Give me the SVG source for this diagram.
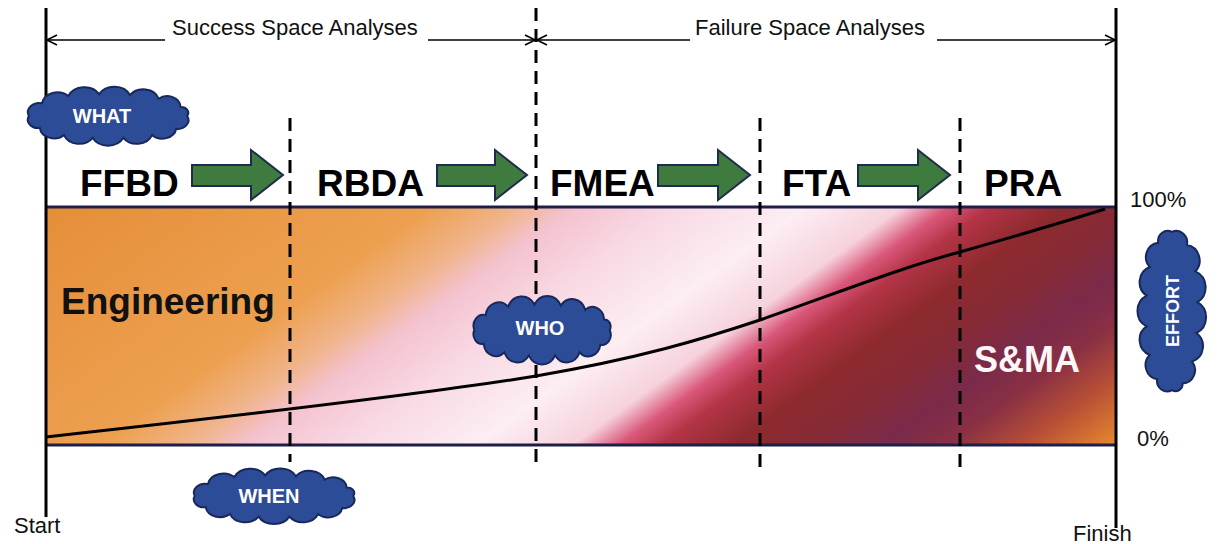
<svg xmlns="http://www.w3.org/2000/svg" xmlns:xlink="http://www.w3.org/1999/xlink" width="1228" height="544" viewBox="0 0 1228 544">
<style>
.t{font-family:"Liberation Sans",Arial,sans-serif;fill:#111}
.lbl{font-size:22px}
.hdr{font-size:37px;font-weight:bold;fill:#000}
.ct{font-family:"Liberation Sans",Arial,sans-serif;font-size:20px;font-weight:bold;fill:#fff;text-anchor:middle}
.blk{stroke:#000;stroke-width:3;fill:none}
.dash{stroke:#000;stroke-width:3;stroke-dasharray:13 8;fill:none}
.ga{fill:#3F7A3E;stroke:#1E2A4E;stroke-width:2}
.cl{fill:#2D4C97;stroke:#18285A;stroke-width:2}
</style>
<defs>
<linearGradient id="band" gradientUnits="userSpaceOnUse" x1="46" y1="207" x2="525" y2="871">
<stop offset="0" stop-color="#E58E38"/>
<stop offset="0.275" stop-color="#EDA050"/>
<stop offset="0.336" stop-color="#F0B48A"/>
<stop offset="0.378" stop-color="#F4C2CF"/>
<stop offset="0.446" stop-color="#F8D8E3"/>
<stop offset="0.543" stop-color="#FCEEF2"/>
<stop offset="0.612" stop-color="#F6D2DD"/>
<stop offset="0.645" stop-color="#D9587A"/>
<stop offset="0.675" stop-color="#B33446"/>
<stop offset="0.726" stop-color="#8E2A2E"/>
<stop offset="0.78" stop-color="#862A36"/>
<stop offset="0.835" stop-color="#7A2A4A"/>
<stop offset="0.88" stop-color="#8A3044"/>
<stop offset="0.935" stop-color="#B85036"/>
<stop offset="1" stop-color="#E8882E"/>
</linearGradient>
<path id="cloud" class="cl" vector-effect="non-scaling-stroke" d="M72,0 A9.6,9.6 0 0 1 62,14 A12.9,12.9 0 0 1 40,21 A14.7,14.7 0 0 1 14,24 A15.7,15.7 0 0 1 -14,24 A14.7,14.7 0 0 1 -40,21 A13.1,13.1 0 0 1 -62,13 A9.2,9.2 0 0 1 -72,0 A10.3,10.3 0 0 1 -60,-14 A14.2,14.2 0 0 1 -36,-22 A15.7,15.7 0 0 1 -8,-24 A15.7,15.7 0 0 1 20,-23 A14.7,14.7 0 0 1 46,-19 A12.3,12.3 0 0 1 66,-10 A6.6,6.6 0 0 1 72,0 Z"/>
<marker id="ah" viewBox="0 0 12 12" refX="11" refY="6" markerWidth="12" markerHeight="12" markerUnits="userSpaceOnUse" orient="auto-start-reverse">
<path d="M1,1 L11,6 L1,11" fill="none" stroke="#000" stroke-width="1.6"/>
</marker>
</defs>
<rect width="1228" height="544" fill="#fff"/>

<g id="band-area">
<rect x="46" y="207" width="1070" height="238" fill="url(#band)"/>
<line x1="46" y1="207" x2="1116" y2="207" stroke="#1E1E48" stroke-width="3"/>
<line x1="46" y1="445" x2="1116" y2="445" stroke="#1E1E48" stroke-width="3"/>
</g>

<g id="axes">
<line class="blk" x1="46" y1="8" x2="46" y2="517"/>
<line class="blk" x1="1116" y1="8" x2="1116" y2="528"/>
<line class="dash" x1="290" y1="118" x2="290" y2="462"/>
<line class="dash" x1="536" y1="8" x2="536" y2="470"/>
<line class="dash" x1="760" y1="118" x2="760" y2="470"/>
<line class="dash" x1="960" y1="118" x2="960" y2="470"/>
</g>

<g id="connectors">
<line x1="47" y1="40" x2="165" y2="40" stroke="#000" stroke-width="1.6" marker-start="url(#ah)"/>
<line x1="428" y1="40" x2="535" y2="40" stroke="#000" stroke-width="1.6" marker-end="url(#ah)"/>
<line x1="537" y1="40" x2="690" y2="40" stroke="#000" stroke-width="1.6" marker-start="url(#ah)"/>
<line x1="937" y1="40" x2="1115" y2="40" stroke="#000" stroke-width="1.6" marker-end="url(#ah)"/>
<polygon class="ga" points="192,165 251,165 251,150 283,175 251,200 251,186 192,186"/>
<polygon class="ga" points="437,165 495,165 495,150 527,175 495,200 495,186 437,186"/>
<polygon class="ga" points="658,165 718,165 718,150 750,175 718,200 718,186 658,186"/>
<polygon class="ga" points="858,165 918,165 918,150 950,175 918,200 918,186 858,186"/>
<path d="M46,437 C200,420 420,395 536,376 C640,358 700,340 760,320 C840,292 900,268 960,252 C1030,232 1070,220 1105,209" fill="none" stroke="#000" stroke-width="3"/>
</g>

<g id="labels">
<text class="t lbl" x="172" y="35">Success Space Analyses</text>
<text class="t lbl" x="695" y="35">Failure Space Analyses</text>
<text class="t lbl" x="14" y="533">Start</text>
<text class="t lbl" x="1073" y="541">Finish</text>
<text class="t lbl" x="1130" y="207">100%</text>
<text class="t lbl" x="1137" y="446">0%</text>
</g>

<g id="node-ffbd"><text class="t hdr" x="80" y="196">FFBD</text></g>
<g id="node-rbda"><text class="t hdr" x="317" y="196">RBDA</text></g>
<g id="node-fmea"><text class="t hdr" x="550" y="196">FMEA</text></g>
<g id="node-fta"><text class="t hdr" x="782" y="196">FTA</text></g>
<g id="node-pra"><text class="t hdr" x="984" y="196">PRA</text></g>

<g id="node-engineering"><text class="t" x="61" y="314" style="font-size:37px;font-weight:bold;fill:#111">Engineering</text></g>
<g id="node-sma"><text class="t" x="974" y="372" style="font-size:36px;font-weight:bold;fill:#FFF6F8">S&amp;MA</text></g>

<g id="node-what">
<use xlink:href="#cloud" href="#cloud" transform="translate(108,116) scale(1.1,0.91)"/>
<text class="ct" x="102" y="123">WHAT</text>
</g>
<g id="node-who">
<use xlink:href="#cloud" href="#cloud" transform="translate(542,330) scale(0.94,1.06)"/>
<text class="ct" x="540" y="335">WHO</text>
</g>
<g id="node-when">
<use xlink:href="#cloud" href="#cloud" transform="translate(274,496) scale(1.1,0.86)"/>
<text class="ct" x="269" y="503">WHEN</text>
</g>
<g id="node-effort">
<use xlink:href="#cloud" href="#cloud" transform="translate(1172,311) rotate(90) scale(1.1,1.06)"/>
<text class="ct" x="0" y="0" transform="translate(1179,311) rotate(-90)" style="font-size:18px">EFFORT</text>
</g>
</svg>
